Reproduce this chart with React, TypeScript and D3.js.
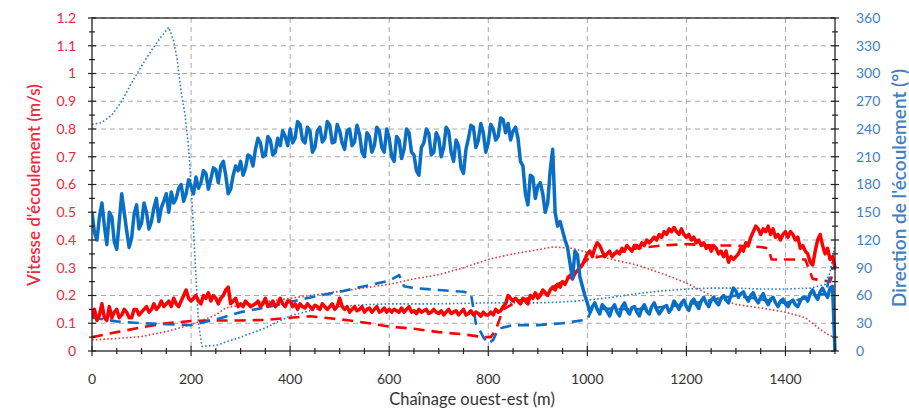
import React from "react";
import * as d3 from "d3";

// measured flow direction (°), right axis, every 5 m from 0 to 1500 m
const directionMeasured = [
  150, 128, 120, 145, 160, 135, 115, 150, 145, 118, 110, 140, 170, 150, 130, 112, 122, 148, 158, 132, 138,
  160, 150, 132, 140, 155, 165, 140, 155, 162, 170, 150, 172, 160, 165, 176, 180, 162, 170, 185, 178,
  170, 188, 176, 182, 195, 192, 175, 186, 198, 196, 182, 200, 205, 190, 170, 175, 190, 200, 195, 205,
  190, 198, 212, 210, 200, 218, 230, 225, 210, 212, 232, 228, 212, 215, 230, 222, 238, 232, 222, 240,
  225, 230, 248, 245, 228, 225, 242, 238, 215, 220, 238, 242, 226, 230, 248, 244, 225, 226, 245, 238,
  225, 218, 238, 240, 222, 226, 244, 235, 215, 210, 236, 232, 215, 222, 242, 238, 220, 215, 240, 230,
  210, 205, 232, 228, 208, 218, 240, 236, 215, 212, 195, 190, 220, 225, 240, 235, 212, 215, 236, 230,
  210, 220, 242, 238, 215, 205, 228, 222, 198, 192, 218, 230, 244, 242, 220, 228, 246, 236, 215, 225,
  245, 240, 228, 232, 252, 250, 236, 246, 228, 238, 242, 230, 205, 200, 170, 158, 190, 188, 165, 178,
  182, 170, 150, 160, 195, 218, 150, 135, 140, 130, 120, 112, 95, 78, 108, 104, 80, 70, 60, 52,
  42, 48, 52, 45, 40, 50, 47, 43, 38, 46, 50, 42, 38, 48, 52, 44, 40, 47, 48, 42,
  38, 46, 50, 43, 40, 48, 52, 45, 40, 44, 48, 49, 42, 46, 54, 50, 45, 52, 55, 48,
  44, 53, 56, 50, 46, 54, 58, 52, 48, 55, 58, 53, 50, 57, 60, 55, 52, 60, 68, 65,
  58, 62, 64, 58, 54, 60, 63, 56, 52, 58, 62, 55, 50, 56, 58, 52, 48, 54, 56, 51,
  48, 53, 55, 50, 48, 54, 58, 58, 54, 62, 66, 60, 56, 64, 68, 62, 58, 68, 70, 0,
];

// measured flow velocity (m/s), left axis, every 5 m from 0 to 1500 m
const velocityMeasured = [
  0.12, 0.15, 0.11, 0.13, 0.17, 0.12, 0.11, 0.16, 0.12, 0.14, 0.15, 0.12, 0.13, 0.15, 0.14, 0.12, 0.12, 0.15, 0.15, 0.13, 0.14,
  0.15, 0.16, 0.14, 0.15, 0.17, 0.15, 0.16, 0.18, 0.16, 0.17, 0.18, 0.16, 0.19, 0.17, 0.16, 0.18, 0.2, 0.22, 0.19, 0.18,
  0.19, 0.2, 0.18, 0.17, 0.2, 0.19, 0.21, 0.18, 0.2, 0.19, 0.17, 0.19, 0.2, 0.22, 0.23, 0.17, 0.18, 0.19, 0.16, 0.17,
  0.16, 0.18, 0.17, 0.16, 0.165, 0.17, 0.18, 0.16, 0.17, 0.19, 0.16, 0.17, 0.18, 0.16, 0.17, 0.19, 0.17, 0.16, 0.18, 0.18,
  0.16, 0.17, 0.15, 0.17, 0.16, 0.155, 0.17, 0.16, 0.15, 0.165, 0.16, 0.15, 0.17, 0.16, 0.15, 0.16, 0.17, 0.15, 0.16, 0.19,
  0.16, 0.15, 0.16, 0.14, 0.15, 0.16, 0.145, 0.15, 0.16, 0.14, 0.15, 0.155, 0.14, 0.15, 0.16, 0.14, 0.145, 0.155, 0.14, 0.15,
  0.14, 0.15, 0.145, 0.14, 0.155, 0.14, 0.15, 0.16, 0.14, 0.145, 0.135, 0.15, 0.14, 0.145, 0.15, 0.135, 0.14, 0.15, 0.14, 0.135,
  0.145, 0.13, 0.14, 0.15, 0.135, 0.14, 0.145, 0.13, 0.14, 0.15, 0.13, 0.135, 0.145, 0.13, 0.14, 0.135, 0.125, 0.14, 0.13, 0.13,
  0.14, 0.13, 0.15, 0.14, 0.145, 0.16, 0.17, 0.2, 0.19, 0.18, 0.19, 0.18, 0.17, 0.19, 0.18, 0.17, 0.2, 0.19, 0.21, 0.19,
  0.2, 0.22, 0.21, 0.2, 0.22, 0.23, 0.22, 0.24, 0.23, 0.25, 0.24, 0.26, 0.27, 0.26, 0.28, 0.29, 0.3, 0.31, 0.33, 0.35,
  0.36, 0.34, 0.37, 0.39, 0.38, 0.36, 0.34, 0.35, 0.36, 0.34, 0.35, 0.36, 0.35, 0.37, 0.36, 0.38, 0.37, 0.36, 0.38, 0.38,
  0.37, 0.39, 0.38, 0.4, 0.39, 0.4, 0.41, 0.4, 0.42, 0.41, 0.43, 0.42, 0.44, 0.43, 0.445, 0.43, 0.42, 0.44, 0.42, 0.41,
  0.42, 0.4, 0.41, 0.39, 0.4, 0.38, 0.39, 0.37, 0.38, 0.36, 0.38, 0.37, 0.35, 0.36, 0.34, 0.36, 0.32, 0.34, 0.33, 0.34,
  0.35, 0.37, 0.36, 0.39, 0.38, 0.41, 0.43, 0.45, 0.44, 0.42, 0.44, 0.43, 0.45, 0.42, 0.44, 0.41, 0.42, 0.4, 0.42, 0.43,
  0.41, 0.43, 0.42, 0.4, 0.41, 0.37, 0.38, 0.36, 0.35, 0.32, 0.31, 0.36, 0.4, 0.42, 0.38, 0.35, 0.37, 0.33, 0.34, 0.3,
];

// modelled velocity, dashed (m/s)
const velDashedX = [0, 50, 100, 150, 200, 250, 300, 350, 400, 440, 480, 520, 560, 600, 650, 700, 750, 790, 805, 815, 830, 860, 900, 950, 1000, 1050, 1100, 1150, 1200, 1250, 1300, 1350, 1365, 1372, 1400, 1440, 1455, 1490, 1500];
const velDashedV = [0.05, 0.068, 0.085, 0.1, 0.108, 0.11, 0.11, 0.112, 0.12, 0.125, 0.118, 0.11, 0.1, 0.088, 0.08, 0.068, 0.06, 0.05, 0.05, 0.075, 0.15, 0.18, 0.2, 0.25, 0.33, 0.35, 0.37, 0.38, 0.385, 0.38, 0.38, 0.375, 0.37, 0.33, 0.33, 0.33, 0.26, 0.25, 0.3];

// modelled velocity, dotted (m/s)
const velDottedX = [0, 50, 100, 150, 200, 250, 270, 300, 400, 500, 600, 650, 700, 750, 800, 850, 900, 930, 970, 1000, 1050, 1100, 1150, 1200, 1250, 1300, 1350, 1400, 1440, 1470, 1490, 1500];
const velDottedV = [0.04, 0.045, 0.052, 0.07, 0.095, 0.13, 0.155, 0.165, 0.19, 0.215, 0.24, 0.26, 0.275, 0.3, 0.33, 0.35, 0.365, 0.375, 0.37, 0.355, 0.33, 0.31, 0.28, 0.245, 0.2, 0.168, 0.155, 0.14, 0.12, 0.078, 0.055, 0.05];

// modelled direction, dashed (°)
const dirDashedX = [0, 50, 100, 150, 200, 250, 300, 350, 400, 450, 500, 550, 600, 620, 630, 650, 700, 750, 765, 775, 790, 800, 810, 820, 850, 900, 950, 1000, 1010, 1100, 1200, 1300, 1400, 1480, 1495];
const dirDashedD = [36, 32, 30, 29, 28, 34, 42, 47, 53, 59, 64, 70, 76, 82, 70, 68, 66, 64, 62, 30, 15, 8, 12, 24, 28, 28, 30, 34, 46, 45, 50, 60, 52, 62, 90];

// modelled direction, dotted (°)
const dirDottedX = [0, 20, 40, 60, 80, 100, 120, 140, 155, 165, 172, 180, 188, 195, 200, 205, 210, 215, 222, 250, 300, 350, 400, 450, 500, 550, 600, 700, 800, 900, 950, 1000, 1050, 1100, 1150, 1200, 1250, 1300, 1350, 1400, 1450, 1480, 1490, 1500];
const dirDottedD = [245, 247, 255, 270, 290, 308, 325, 340, 350, 335, 315, 280, 255, 220, 180, 130, 80, 30, 5, 6, 15, 25, 38, 45, 48, 50, 51, 51, 52, 52, 53, 55, 58, 62, 65, 67, 68, 68, 67, 67, 68, 72, 85, 115];

const xTicks = [0, 200, 400, 600, 800, 1000, 1200, 1400];
const vTicks = [0, 0.1, 0.2, 0.3, 0.4, 0.5, 0.6, 0.7, 0.8, 0.9, 1, 1.1, 1.2];
const dTicks = [0, 30, 60, 90, 120, 150, 180, 210, 240, 270, 300, 330, 360];

const STEP = 5; // sampling step (m) of the measured series

const W = 909;
const H = 409;
const L = 92;
const R = 835;
const T = 18;
const B = 351;

const RED = "#ff0000";
const BLUE = "#0a6ec4";
const RED_TXT = "#ee2a3c";
const BLUE_TXT = "#3f80c4";
const FONT = "Lato, 'Open Sans', sans-serif";

export default function App() {
  const x = d3.scaleLinear().domain([0, 1500]).range([L, R]);
  const yv = d3.scaleLinear().domain([0, 1.2]).range([B, T]);
  const yd = d3.scaleLinear().domain([0, 360]).range([B, T]);

  const lineV = d3.line<[number, number]>().x((p) => x(p[0])).y((p) => yv(p[1]));
  const lineD = d3.line<[number, number]>().x((p) => x(p[0])).y((p) => yd(p[1]));

  const zip = (a: number[], b: number[]) => a.map((v, i) => [v, b[i]] as [number, number]);
  const sampled = (vals: number[]) => vals.map((v, i) => [i * STEP, v] as [number, number]);

  const xMinor = d3.range(0, 1501, 50);
  const vMinor = d3.range(0, 1.2001, 0.05);
  const dMinor = d3.range(0, 360.1, 15);

  return (
    <svg width={W} height={H} style={{ position: "absolute", left: 0, top: 0, background: "#fff" }} fontFamily={FONT}>
      <defs>
        <clipPath id="plot">
          <rect x={L} y={T - 2} width={R - L + 2} height={B - T + 2} />
        </clipPath>
      </defs>
      <rect width={W} height={H} fill="#fff" />
      {/* grid */}
      {vTicks.slice(1).map((t) => (
        <line key={"hg" + t} x1={L} x2={R} y1={yv(t)} y2={yv(t)} stroke="#a8a8a8" strokeWidth={1} strokeDasharray="5,4" />
      ))}
      {xTicks.slice(1).map((t) => (
        <line key={"vg" + t} x1={x(t)} x2={x(t)} y1={T} y2={B} stroke="#a8a8a8" strokeWidth={1} strokeDasharray="5,4" />
      ))}

      <g clipPath="url(#plot)" fill="none" strokeLinejoin="round">
        <path d={lineV(zip(velDottedX, velDottedV)) || ""} stroke="#e23b3b" strokeWidth={1.6} strokeDasharray="1.6,2.2" />
        <path d={lineD(zip(dirDottedX, dirDottedD)) || ""} stroke="#2a7cc8" strokeWidth={1.6} strokeDasharray="1.6,2.2" />
        <path d={lineV(zip(velDashedX, velDashedV)) || ""} stroke={RED} strokeWidth={2.6} strokeDasharray="11,7" />
        <path d={lineD(zip(dirDashedX, dirDashedD)) || ""} stroke={BLUE} strokeWidth={2.6} strokeDasharray="11,7" />
        <path d={lineV(sampled(velocityMeasured)) || ""} stroke={RED} strokeWidth={3.5} />
        <path d={lineD(sampled(directionMeasured)) || ""} stroke={BLUE} strokeWidth={3.5} />
      </g>

      {/* frame */}
      <rect x={L} y={T} width={R - L} height={B - T} fill="none" stroke="#222" strokeWidth={1.3} />

      {/* left axis ticks */}
      {vMinor.map((t, i) => (
        <line key={"lt" + i} x1={L - (i % 2 === 0 ? 4 : 3)} x2={L + (i % 2 === 0 ? 4 : 3)} y1={yv(t)} y2={yv(t)} stroke="#222" strokeWidth={1.2} />
      ))}
      {vTicks.map((t) => (
        <text key={"ll" + t} x={76} y={yv(t)} dy="0.35em" textAnchor="end" fontSize={14} fill={RED_TXT}>
          {d3.format("~g")(t)}
        </text>
      ))}
      {/* right axis ticks */}
      {dMinor.map((t, i) => (
        <line key={"rt" + i} x1={R - (i % 2 === 0 ? 4 : 3)} x2={R + (i % 2 === 0 ? 4 : 3)} y1={yd(t)} y2={yd(t)} stroke="#222" strokeWidth={1.2} />
      ))}
      {dTicks.map((t) => (
        <text key={"rl" + t} x={856} y={yd(t)} dy="0.35em" textAnchor="start" fontSize={14} fill={BLUE_TXT}>
          {t}
        </text>
      ))}
      {/* bottom axis ticks */}
      {xMinor.map((t) => (
        <line key={"bt" + t} x1={x(t)} x2={x(t)} y1={B - (t % 200 === 0 ? 5 : 3)} y2={B + (t % 200 === 0 ? 5 : 3)} stroke="#222" strokeWidth={1.2} />
      ))}
      {xTicks.map((t) => (
        <text key={"bl" + t} x={x(t)} y={379} dy="0.35em" textAnchor="middle" fontSize={14} fill="#333">
          {t}
        </text>
      ))}

      <text x={472} y={405} textAnchor="middle" fontSize={16.5} fill="#333">
        Chaînage ouest-est (m)
      </text>
      <text transform="translate(40,185) rotate(-90)" textAnchor="middle" fontSize={17} fontWeight={600} fill={RED_TXT}>
        Vitesse d'écoulement (m/s)
      </text>
      <text transform="translate(906,307) rotate(-90)" textAnchor="start" fontSize={19} fontWeight={600} fill={BLUE_TXT}>
        Direction de l'écoulement (°)
      </text>
    </svg>
  );
}
